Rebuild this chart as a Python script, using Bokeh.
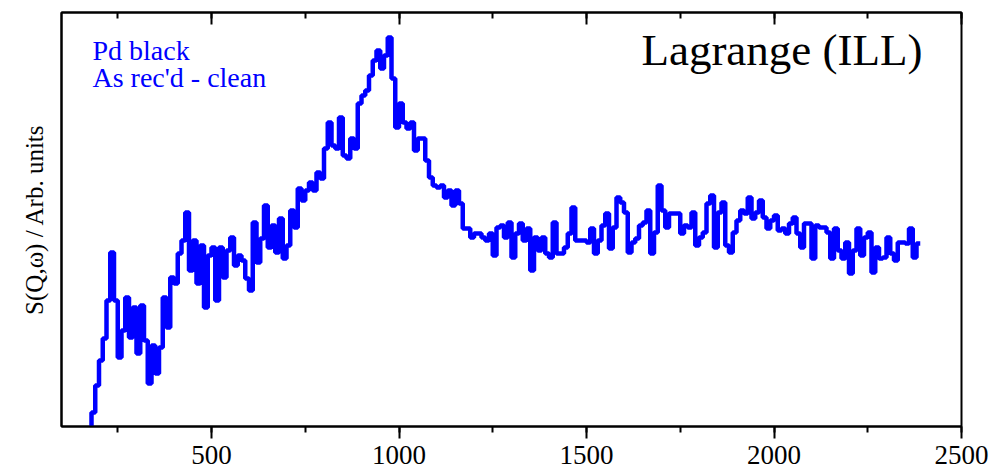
from bokeh.plotting import figure
from bokeh.models import Label, LinearAxis, Range1d, FixedTicker
from bokeh.embed import file_html
from bokeh.resources import INLINE

# Energy-transfer bins (start of each bin, step 10) and S(Q,w) in arbitrary units
bin_start = list(range(170, 2390, 10))
bin_end = 2390
sqw = [
    -4, 14, 41, 66, 88, 126, 174, 126, 69, 96,
    129, 89, 119, 73, 121, 86, 43, 81, 53, 79,
    129, 99, 149, 143, 173, 186, 214, 156, 186, 143,
    181, 119, 171, 179, 126, 179, 149, 176, 189, 161,
    171, 166, 148, 136, 204, 164, 188, 221, 179, 201,
    174, 208, 168, 181, 216, 199, 238, 226, 236, 244,
    236, 254, 248, 278, 304, 281, 278, 309, 271, 268,
    288, 278, 323, 331, 336, 351, 366, 376, 358, 371,
    389, 348, 299, 323, 304, 298, 304, 276, 288, 288,
    266, 249, 241, 239, 241, 229, 236, 221, 236, 223,
    198, 198, 189, 193, 193, 189, 186, 193, 171, 199,
    201, 189, 204, 169, 193, 203, 186, 198, 156, 189,
    176, 189, 173, 169, 204, 173, 173, 179, 193, 219,
    186, 186, 186, 184, 198, 173, 186, 201, 213, 178,
    199, 229, 224, 214, 174, 184, 188, 201, 204, 216,
    173, 194, 241, 216, 199, 213, 213, 213, 193, 201,
    199, 214, 181, 189, 194, 223, 231, 179, 214, 224,
    181, 174, 194, 206, 216, 213, 229, 208, 214, 226,
    209, 198, 206, 211, 196, 198, 193, 203, 209, 193,
    179, 203, 203, 168, 201, 199, 199, 194, 168, 198,
    176, 168, 184, 153, 176, 198, 171, 189, 194, 154,
    179, 168, 169, 189, 173, 166, 184, 184, 183, 198,
    169, 183,
]
x_ticks = [500, 1000, 1500, 2000, 2500]
x_minor = [250, 500, 750, 1000, 1250, 1500, 1750, 2000, 2250, 2500]

xs = bin_start + [bin_end]
ys = sqw + [sqw[-1]]

SERIF = "Liberation Serif"
BLUE = "#0000FF"

p = figure(width=996, height=470, x_range=Range1d(100, 2500), y_range=Range1d(0, 414),
           output_backend="svg", toolbar_location=None,
           min_border_left=61, min_border_right=35, min_border_top=12, min_border_bottom=44)
p.grid.visible = False
p.background_fill_color = "white"
p.border_fill_color = "white"
p.outline_line_color = "black"
p.outline_line_width = 2

ya = p.yaxis[0]
ya.ticker = FixedTicker(ticks=[])
ya.axis_line_width = 2
ya.axis_label = "S(Q,\u03c9) / Arb. units"
ya.axis_label_text_font = SERIF
ya.axis_label_text_font_size = "25px"
ya.axis_label_text_font_style = "normal"
ya.axis_label_text_color = "black"
ya.axis_label_standoff = 14

ax = p.xaxis[0]
ax.ticker = FixedTicker(ticks=x_ticks, minor_ticks=x_minor)
ax.major_tick_out = 12
ax.major_tick_in = 0
ax.minor_tick_out = 6
ax.minor_tick_in = 0
ax.axis_line_width = 2
ax.major_tick_line_width = 2
ax.minor_tick_line_width = 2
ax.major_label_text_font = SERIF
ax.major_label_text_font_size = "27px"
ax.major_label_text_color = "black"
ax.major_label_standoff = 7

top = LinearAxis(ticker=FixedTicker(ticks=x_ticks, minor_ticks=x_minor),
                 major_tick_in=12, major_tick_out=0, minor_tick_in=6, minor_tick_out=0,
                 axis_line_width=2, major_tick_line_width=2, minor_tick_line_width=2,
                 major_label_overrides={t: "" for t in x_ticks},
                 major_label_text_font_size="1px", major_label_standoff=0)
p.add_layout(top, "above")

p.step(x=xs, y=ys, mode="after", line_color=BLUE, line_width=4.5)

p.add_layout(Label(x=31, y=376, x_units="screen", y_units="screen", text="Pd black",
                   text_font=SERIF, text_font_size="28px", text_color=BLUE,
                   text_baseline="alphabetic"))
p.add_layout(Label(x=31, y=349, x_units="screen", y_units="screen", text="As rec'd - clean",
                   text_font=SERIF, text_font_size="28px", text_color=BLUE,
                   text_baseline="alphabetic"))
p.add_layout(Label(x=861, y=377, x_units="screen", y_units="screen", text="Lagrange (ILL)",
                   text_font=SERIF, text_font_size="45px", text_color="black",
                   text_align="right", text_baseline="alphabetic"))

open("out.html", "w").write(file_html(p, INLINE))
